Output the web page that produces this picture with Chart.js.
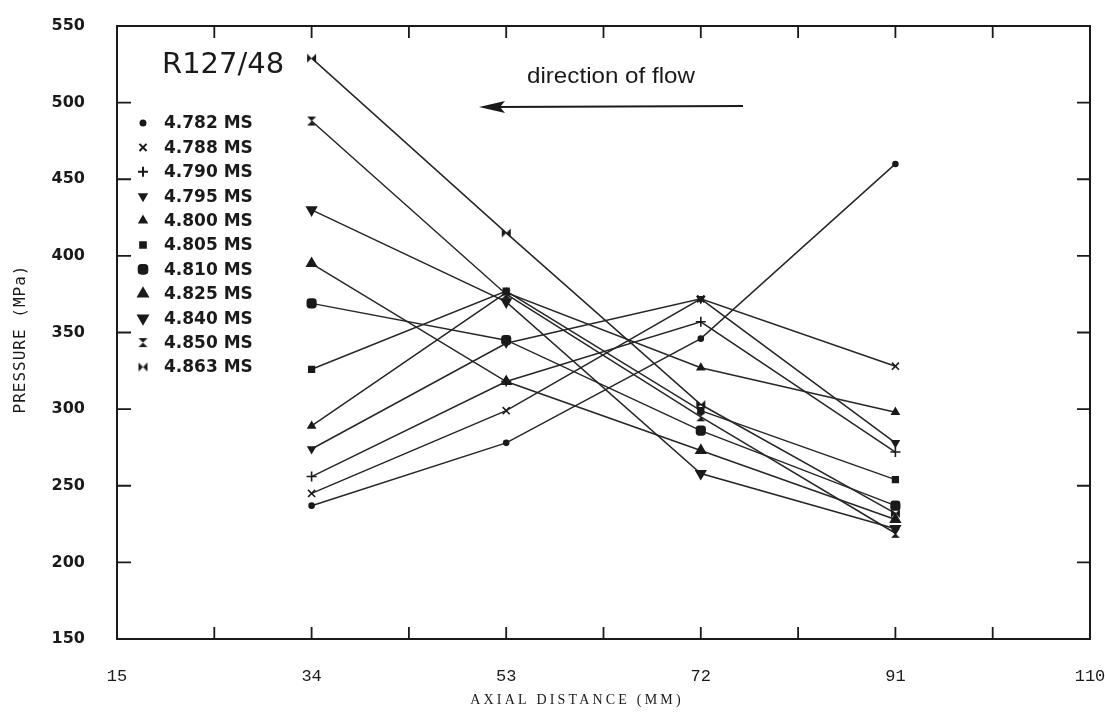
<!DOCTYPE html>
<html lang="en">
<head>
  <meta charset="UTF-8" />
  <title>Pressure vs axial distance - R127/48</title>
  <script src="https://cdn.jsdelivr.net/npm/chart.js"></script>
  <style>
    body {
      margin: 0;
      background: #fff;
    }
    .wrap {
      width: 1105px;
      height: 713px;
      position: relative;
    }
  </style>
</head>
<body>
  <div class="wrap"><canvas id="chart"></canvas></div>
  <script>
    // gauge positions (mm) and pressures (MPa)
    const positions = [34, 53, 72, 91];
    const times = ["4.782 MS", "4.788 MS", "4.790 MS", "4.795 MS", "4.800 MS", "4.805 MS",
                   "4.810 MS", "4.825 MS", "4.840 MS", "4.850 MS", "4.863 MS"];
    const p4782 = [237, 278, 346, 460];
    const p4788 = [245, 299, 372, 328];
    const p4790 = [256, 318, 357, 272];
    const p4795 = [274, 343, 372, 278];
    const p4800 = [289, 376, 327, 298];
    const p4805 = [326, 377, 299, 254];
    const p4810 = [369, 345, 286, 237];
    const p4825 = [395, 318, 273, 228];
    const p4840 = [430, 370, 258, 222];
    const p4850 = [488, 375, 295, 219];
    const p4863 = [529, 415, 303, 232];
    const series = [p4782, p4788, p4790, p4795, p4800, p4805, p4810, p4825, p4840, p4850, p4863];
    const xTicks = [15, 34, 53, 72, 91, 110];
    const yTicks = [150, 200, 250, 300, 350, 400, 450, 500, 550];

    const ink = "#1a1a1a";

    // little canvases for the two odd plotter symbols
    function symbol(kind) {
      const c = document.createElement("canvas");
      c.width = 11; c.height = 11;
      const g = c.getContext("2d");
      g.fillStyle = ink;
      g.beginPath();
      if (kind === "hourglass") {
        g.moveTo(1, 1); g.lineTo(10, 1); g.lineTo(5.5, 5.5); g.lineTo(10, 10); g.lineTo(1, 10); g.lineTo(5.5, 5.5);
      } else {
        g.moveTo(1, 1); g.lineTo(5.5, 5.5); g.lineTo(10, 1); g.lineTo(10, 10); g.lineTo(5.5, 5.5); g.lineTo(1, 10);
      }
      g.closePath();
      g.fill();
      return c;
    }

    const markers = [
      { style: "circle", r: 2.5, rot: 0 },
      { style: "crossRot", r: 5, rot: 0 },
      { style: "cross", r: 5, rot: 0 },
      { style: "triangle", r: 4, rot: 180 },
      { style: "triangle", r: 4, rot: 0 },
      { style: "rect", r: 4, rot: 0 },
      { style: "rectRounded", r: 5, rot: 0 },
      { style: "triangle", r: 5.5, rot: 0 },
      { style: "triangle", r: 5.5, rot: 180 },
      { style: symbol("hourglass"), r: 5, rot: 0 },
      { style: symbol("bowtie"), r: 5, rot: 0 }
    ];

    const datasets = series.map((vals, i) => ({
      label: times[i],
      data: vals.map((v, j) => ({ x: positions[j], y: v })),
      borderColor: "#262626",
      borderWidth: 1.5,
      pointStyle: markers[i].style,
      pointRadius: markers[i].r,
      pointRotation: markers[i].rot,
      pointBackgroundColor: ink,
      pointBorderColor: ink,
      pointBorderWidth: 1.6,
      tension: 0
    }));

    // frame, inward ticks, annotations and the hand-made legend
    const decor = {
      id: "decor",
      afterDraw(chart) {
        const { ctx, chartArea: a, scales: { x, y } } = chart;
        ctx.save();
        ctx.strokeStyle = ink;
        ctx.lineWidth = 2;
        ctx.strokeRect(a.left, a.top, a.right - a.left, a.bottom - a.top);

        ctx.lineWidth = 1.8;
        ctx.beginPath();
        for (let v = 15 + 9.5; v < 110; v += 9.5) {
          const px = x.getPixelForValue(v);
          ctx.moveTo(px, a.bottom); ctx.lineTo(px, a.bottom - 12);
          ctx.moveTo(px, a.top); ctx.lineTo(px, a.top + 12);
        }
        yTicks.slice(1, -1).forEach(v => {
          const py = y.getPixelForValue(v);
          ctx.moveTo(a.left, py); ctx.lineTo(a.left + 14, py);
          ctx.moveTo(a.right, py); ctx.lineTo(a.right - 13, py);
        });
        ctx.stroke();

        ctx.fillStyle = ink;
        // run label
        ctx.font = "29px 'DejaVu Sans'";
        ctx.textBaseline = "middle";
        ctx.textAlign = "left";
        ctx.fillText("R127/48", 162, 65);

        // flow annotation, squeezed like the plotter lettering
        ctx.font = "22px 'Liberation Sans'";
        const label = "direction of flow";
        const w = ctx.measureText(label).width;
        ctx.save();
        ctx.translate(527, 77);
        ctx.scale(168 / w, 1);
        ctx.fillText(label, 0, 0);
        ctx.restore();

        ctx.lineWidth = 2;
        ctx.beginPath();
        ctx.moveTo(743, 106); ctx.lineTo(495, 107);
        ctx.stroke();
        ctx.beginPath();
        ctx.moveTo(479, 107); ctx.lineTo(505, 101); ctx.lineTo(500, 107); ctx.lineTo(505, 113);
        ctx.closePath();
        ctx.fill();

        // legend
        ctx.font = "bold 17px 'DejaVu Sans'";
        times.forEach((t, i) => {
          const ly = 123 + i * 24.4;
          const m = markers[i];
          Chart.helpers.drawPoint(ctx, {
            pointStyle: m.style, radius: m.r, rotation: m.rot, borderWidth: 1.6
          }, 143, ly);
          ctx.fillText(t, 164, ly + 1);
        });

        // axis titles
        ctx.font = "14px 'Liberation Serif'";
        ctx.textAlign = "center";
        ctx.letterSpacing = "3.2px";
        ctx.fillText("AXIAL DISTANCE (MM)", 577, 700);
        ctx.letterSpacing = "1px";
        ctx.font = "16px 'DejaVu Sans Mono'";
        ctx.translate(21, 339);
        ctx.rotate(-Math.PI / 2);
        ctx.fillText("PRESSURE (MPa)", 0, 0);
        ctx.restore();
      }
    };

    new Chart(document.getElementById("chart"), {
      type: "line",
      data: { datasets },
      options: {
        responsive: true,
        maintainAspectRatio: false,
        animation: false,
        layout: { padding: { top: 26, right: 15, left: 0, bottom: 0 } },
        plugins: { legend: { display: false }, tooltip: { enabled: false } },
        scales: {
          x: {
            type: "linear",
            min: 15,
            max: 110,
            afterBuildTicks: s => { s.ticks = xTicks.map(v => ({ value: v })); },
            afterFit: s => { s.height = 74; s.paddingLeft = 0; s.paddingRight = 0; },
            grid: { display: false },
            border: { display: false },
            ticks: { padding: 19, color: ink, font: { family: "'Liberation Mono'", size: 17 } }
          },
          y: {
            min: 150,
            max: 550,
            afterBuildTicks: s => { s.ticks = yTicks.map(v => ({ value: v })); },
            afterFit: s => { s.width = 117; s.paddingTop = 0; s.paddingBottom = 0; },
            grid: { display: false },
            border: { display: false },
            ticks: { padding: 24, color: ink, font: { family: "'DejaVu Sans'", size: 16, weight: "bold" } }
          }
        }
      },
      plugins: [decor]
    });
  </script>
</body>
</html>
